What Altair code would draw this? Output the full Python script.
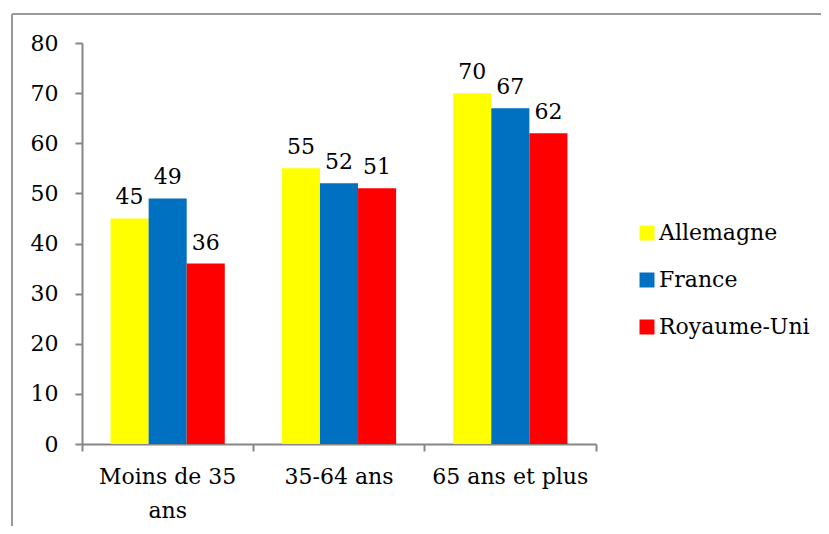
import altair as alt
import pandas as pd

categories = ["Moins de 35 ans", "35-64 ans", "65 ans et plus"]
series = ["Allemagne", "France", "Royaume-Uni"]
allemagne = [45, 55, 70]
france = [49, 52, 67]
royaume_uni = [36, 51, 62]
colors = ["#FFFF00", "#0070C0", "#FF0000"]
y_ticks = [0, 10, 20, 30, 40, 50, 60, 70, 80]

rows = []
for s, vals in zip(series, [allemagne, france, royaume_uni]):
    for c, v in zip(categories, vals):
        rows.append({"cat": c, "serie": s, "val": v})
df = pd.DataFrame(rows)

W, H = 514, 401
FONT = "DejaVu Serif"
FS = 22
GRAY = "#868686"

x_enc = alt.X(
    "cat:N", sort=categories, title=None,
    scale=alt.Scale(paddingInner=0, paddingOuter=0),
    axis=alt.Axis(
        labelAngle=0, bandPosition=1, tickExtra=True,
        tickSize=7, tickColor=GRAY, domainColor=GRAY, domainWidth=2, tickWidth=2,
        labelFont=FONT, labelFontSize=FS, labelColor="#000000", labelPadding=15,
        labelLineHeight=34,
        labelExpr="datum.value == 'Moins de 35 ans' ? ['Moins de 35', 'ans'] : datum.value",
    ),
)
y_enc = alt.Y(
    "val:Q", title=None,
    scale=alt.Scale(domain=[0, 80], nice=False),
    axis=alt.Axis(
        values=y_ticks, grid=False, tickSize=7, tickColor=GRAY, domainColor=GRAY,
        domainWidth=2, tickWidth=2,
        labelFont=FONT, labelFontSize=FS, labelColor="#000000", labelPadding=17,
    ),
)
xoff = alt.XOffset("serie:N", sort=series, scale=alt.Scale(paddingInner=0, paddingOuter=0.75))

bars = alt.Chart(df).mark_bar().encode(
    x=x_enc, y=y_enc, xOffset=xoff,
    color=alt.Color(
        "serie:N", sort=series, scale=alt.Scale(domain=series, range=colors),
        legend=alt.Legend(
            title=None, orient="none", legendX=554, legendY=179,
            symbolType="square", symbolSize=225, symbolStrokeWidth=0,
            labelFont=FONT, labelFontSize=FS, labelColor="#000000",
            rowPadding=25, labelOffset=1,
        ),
    ),
)

labels = alt.Chart(df).mark_text(
    baseline="bottom", dy=-9, font=FONT, fontSize=FS, color="#000000"
).encode(
    x=alt.X("cat:N", sort=categories), y="val:Q", xOffset=xoff, text="val:Q"
)

frame_df = pd.DataFrame({"a": [0]})
frame_top = alt.Chart(frame_df).mark_rule(color="#9a9a9a", strokeWidth=2).encode(
    x=alt.value(-70), x2=alt.value(760), y=alt.value(-29)
)
frame_left = alt.Chart(frame_df).mark_rule(color="#9a9a9a", strokeWidth=2).encode(
    x=alt.value(-70), y=alt.value(-29), y2=alt.value(H + 120)
)

chart = alt.layer(bars, labels, frame_top, frame_left).properties(
    width=W, height=H,
    autosize=alt.AutoSizeParams(type="none"),
    padding={"left": 74, "top": 35, "right": 225, "bottom": 82},
    background="#ffffff",
).configure_view(stroke=None)

chart.save("out.html", embed_options={"renderer": "svg", "actions": False})
